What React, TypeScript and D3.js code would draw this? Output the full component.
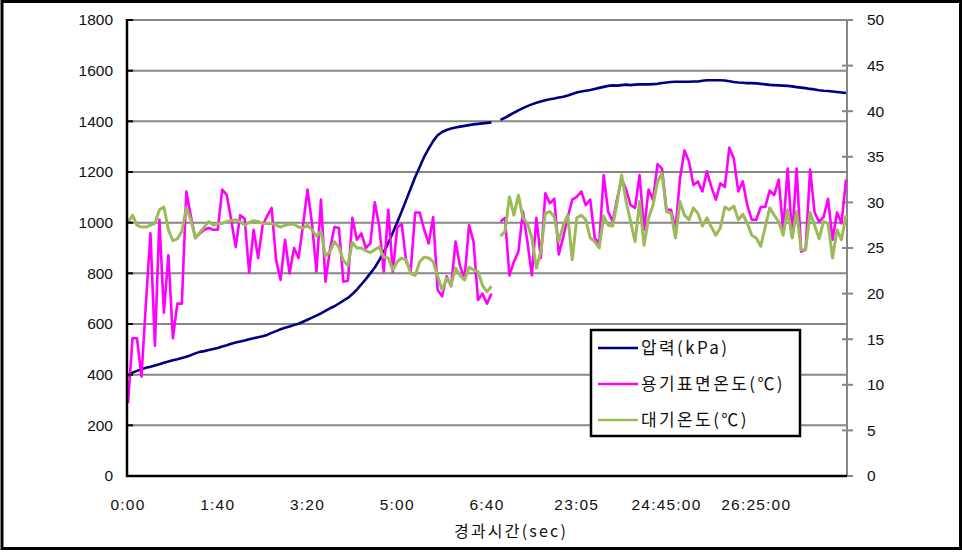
import React, { useEffect, useRef } from 'react';
import * as d3 from 'd3';

// x axis: one point every 5 s, a label every 20 points
const tickLabels = ['0:00', '1:40', '3:20', '5:00', '6:40', '23:05', '24:45:00', '26:25:00'];
const labelStep = 20;

// 압력 (kPa), left axis
const pressure = [
  395, 408, 415, 421, 427, 431, 436, 441, 447, 452,
  457, 461, 466, 471, 477, 484, 490, 493, 497, 501,
  505, 511, 516, 522, 527, 531, 535, 540, 544, 548,
  552, 557, 565, 572, 579, 585, 590, 596, 601, 609,
  617, 625, 633, 642, 652, 662, 670, 681, 692, 703,
  718, 736, 756, 777, 800, 823, 852, 884, 920, 960,
  1002, 1045, 1090, 1135, 1180, 1220, 1260, 1292, 1322, 1345,
  1358, 1366, 1372, 1376, 1379, 1382, 1385, 1388, 1390, 1392,
  1394, 1396, null, 1406, 1414, 1424, 1434, 1443, 1452, 1460,
  1467, 1473, 1478, 1483, 1487, 1490, 1494, 1497, 1502, 1508,
  1514, 1518, 1521, 1524, 1528, 1532, 1536, 1540, 1542, 1541,
  1543, 1545, 1543, 1545, 1546, 1546, 1546, 1547, 1548, 1551,
  1553, 1555, 1556, 1556, 1556, 1556, 1557, 1557, 1560, 1562,
  1562, 1562, 1562, 1561, 1558, 1555, 1553, 1552, 1551, 1551,
  1550, 1548, 1546, 1544, 1543, 1542, 1541, 1540, 1538, 1535,
  1533, 1531, 1528, 1526, 1523, 1521, 1520, 1518, 1516, 1514,
  1512,
];

// 용기표면온도 (℃), right axis
const surfaceTemp = [
  8.0, 15.1, 15.1, 10.9, 19.0, 26.6, 14.3, 28.1, 17.9, 24.2,
  15.1, 18.9, 18.9, 31.2, 28.5, 26.1, 26.6, 27.0, 27.2, 27.0,
  27.0, 31.4, 30.8, 28.1, 25.1, 28.6, 28.2, 22.3, 27.0, 23.9,
  27.5, 28.5, 29.4, 23.7, 21.5, 25.9, 22.2, 25.0, 23.9, 27.5,
  31.4, 27.7, 22.4, 30.3, 21.3, 24.8, 27.3, 27.2, 21.3, 21.4,
  28.3, 25.9, 26.6, 25.0, 25.5, 30.0, 27.3, 22.4, 29.2, 22.4,
  27.3, 27.6, 23.5, 22.5, 28.9, 28.9, 27.0, 25.5, 28.4, 20.4,
  19.7, 21.9, 20.8, 25.7, 23.0, 21.7, 27.5, 25.7, 19.3, 20.0,
  18.9, 20.0, null, 27.9, 28.3, 22.0, 23.5, 24.6, 29.0, 25.7,
  22.0, 28.3, 23.9, 31.0, 29.9, 30.4, 24.3, 26.2, 28.4, 30.3,
  30.6, 31.2, 29.7, 30.3, 26.1, 25.5, 33.0, 29.0, 27.9, 30.4,
  32.6, 31.4, 29.7, 29.4, 33.0, 27.0, 31.4, 30.3, 34.2, 33.7,
  29.2, 29.2, 27.0, 32.6, 35.7, 34.5, 31.9, 32.3, 31.2, 33.4,
  31.7, 30.3, 32.1, 31.7, 36.0, 34.8, 31.2, 32.3, 29.7, 28.1,
  28.1, 29.5, 29.5, 31.3, 30.8, 32.5, 27.0, 33.7, 26.2, 33.7,
  24.6, 24.8, 33.6, 28.9, 27.9, 28.4, 30.4, 25.9, 28.9, 27.7,
  32.5,
];

// 대기온도 (℃), right axis
const airTemp = [
  27.8, 28.6, 27.5, 27.3, 27.3, 27.5, 27.7, 29.2, 29.5, 27.0,
  25.8, 26.0, 26.8, 29.4, 28.1, 26.1, 26.7, 27.3, 27.9, 27.5,
  27.7, 27.7, 27.9, 28.0, 28.1, 27.9, 27.5, 27.8, 28.0, 27.9,
  27.7, 27.7, 27.7, 27.5, 27.3, 27.5, 27.6, 27.6, 27.3, 27.2,
  27.5, 27.0, 26.3, 26.8, 24.1, 24.6, 25.7, 25.1, 23.6, 23.1,
  25.6, 25.0, 25.0, 24.7, 24.5, 24.8, 25.1, 24.0, 23.9, 22.6,
  23.5, 23.9, 23.7, 22.2, 22.0, 23.5, 24.0, 23.9, 23.5, 21.9,
  20.4, 21.7, 20.9, 22.8, 22.0, 21.5, 22.9, 22.6, 22.4, 20.9,
  20.2, 20.8, null, 26.3, 26.8, 30.6, 28.6, 30.8, 28.3, 27.7,
  26.1, 22.8, 24.6, 28.8, 29.0, 28.4, 25.7, 27.5, 28.6, 23.7,
  28.3, 28.6, 28.1, 26.1, 25.7, 25.0, 28.5, 27.5, 27.4, 30.0,
  33.0, 30.1, 27.9, 25.7, 30.1, 25.3, 28.3, 29.7, 32.3, 33.2,
  29.0, 28.8, 26.1, 30.1, 28.6, 28.1, 29.4, 28.8, 27.4, 28.3,
  27.3, 26.4, 27.2, 29.5, 29.2, 29.6, 28.1, 28.7, 27.7, 26.4,
  26.1, 25.2, 27.3, 29.4, 28.6, 27.9, 26.4, 29.2, 26.1, 29.0,
  24.8, 24.8, 28.9, 27.5, 26.0, 27.9, 27.7, 23.9, 27.0, 25.9,
  28.6,
];

const seriesNames = ['압력(kPa)', '용기표면온도(℃)', '대기온도(℃)'];
const seriesColors = ['#000080', '#ff00ff', '#9bbb59'];

const numFont = '"Liberation Sans", Arial, sans-serif';
const krFont = '"Noto Sans CJK KR", "Liberation Sans", sans-serif';

export default function App() {
  const ref = useRef<SVGSVGElement>(null);

  useEffect(() => {
    const svg = d3.select(ref.current);
    svg.selectAll('*').remove();

    const left = 128;
    const right = 846;
    const top = 20;
    const bottom = 476;

    const x = d3.scaleLinear().domain([0, pressure.length - 1]).range([left, right]);
    const yLeft = d3.scaleLinear().domain([0, 1800]).range([bottom, top]);
    const yRight = d3.scaleLinear().domain([0, 50]).range([bottom, top]);

    // chart border
    svg
      .append('rect')
      .attr('x', 2)
      .attr('y', 1.5)
      .attr('width', 958.5)
      .attr('height', 547)
      .attr('fill', '#fff')
      .attr('stroke', '#000')
      .attr('stroke-width', 3);

    const leftTicks = d3.range(0, 1801, 200);
    const rightTicks = d3.range(0, 51, 5);

    // grid
    svg
      .append('g')
      .selectAll('line')
      .data(leftTicks.filter((d) => d > 0))
      .enter()
      .append('line')
      .attr('x1', left)
      .attr('x2', right)
      .attr('y1', (d) => yLeft(d))
      .attr('y2', (d) => yLeft(d))
      .attr('stroke', '#868686')
      .attr('stroke-width', 2);

    // right axis (gray)
    const rAxis = svg.append('g');
    rAxis
      .append('line')
      .attr('x1', 847)
      .attr('x2', 847)
      .attr('y1', top)
      .attr('y2', bottom)
      .attr('stroke', '#868686')
      .attr('stroke-width', 2);
    rAxis
      .selectAll('.rtick')
      .data(rightTicks)
      .enter()
      .append('line')
      .attr('x1', 842)
      .attr('x2', 853)
      .attr('y1', (d) => yRight(d))
      .attr('y2', (d) => yRight(d))
      .attr('stroke', '#868686')
      .attr('stroke-width', 2);
    rAxis
      .selectAll('text')
      .data(rightTicks)
      .enter()
      .append('text')
      .attr('x', 867)
      .attr('y', (d) => yRight(d))
      .attr('dy', '0.35em')
      .attr('font-family', numFont)
      .attr('font-size', 15.5)
      .attr('fill', '#111')
      .text((d) => d);

    // series
    const lineFor = (scale: d3.ScaleLinear<number, number>) =>
      d3
        .line<number | null>()
        .defined((d) => d != null)
        .x((_, i) => x(i))
        .y((d) => scale(d as number));

    const series = [
      { values: pressure, scale: yLeft, width: 2.6 },
      { values: surfaceTemp, scale: yRight, width: 2.6 },
      { values: airTemp, scale: yRight, width: 3 },
    ];
    series.forEach((s, k) => {
      svg
        .append('path')
        .attr('d', lineFor(s.scale)(s.values))
        .attr('fill', 'none')
        .attr('stroke', seriesColors[k])
        .attr('stroke-width', s.width)
        .attr('stroke-linejoin', 'round');
    });

    // left axis + bottom axis (black)
    const lAxis = svg.append('g');
    lAxis
      .selectAll('.ltick')
      .data(leftTicks)
      .enter()
      .append('line')
      .attr('x1', 126)
      .attr('x2', 133)
      .attr('y1', (d) => yLeft(d))
      .attr('y2', (d) => yLeft(d))
      .attr('stroke', '#000')
      .attr('stroke-width', 2);
    lAxis
      .append('line')
      .attr('x1', 127)
      .attr('x2', 127)
      .attr('y1', top - 1)
      .attr('y2', bottom + 1)
      .attr('stroke', '#000')
      .attr('stroke-width', 2.5);
    lAxis
      .append('line')
      .attr('x1', 126)
      .attr('x2', right + 1)
      .attr('y1', bottom)
      .attr('y2', bottom)
      .attr('stroke', '#000')
      .attr('stroke-width', 2.5);
    lAxis
      .selectAll('text')
      .data(leftTicks)
      .enter()
      .append('text')
      .attr('x', 113)
      .attr('y', (d) => yLeft(d))
      .attr('dy', '0.35em')
      .attr('text-anchor', 'end')
      .attr('font-family', numFont)
      .attr('font-size', 15.5)
      .attr('fill', '#111')
      .text((d) => d);

    // x labels
    svg
      .append('g')
      .selectAll('text')
      .data(tickLabels)
      .enter()
      .append('text')
      .attr('x', (_, i) => x(i * labelStep))
      .attr('y', 505)
      .attr('dy', '0.35em')
      .attr('text-anchor', 'middle')
      .attr('font-family', numFont)
      .attr('font-size', 15.5)
      .attr('letter-spacing', 1.2)
      .attr('fill', '#111')
      .text((d) => d);

    svg
      .append('text')
      .attr('x', 511)
      .attr('y', 531)
      .attr('dy', '0.35em')
      .attr('text-anchor', 'middle')
      .attr('font-family', krFont)
      .attr('font-size', 16)
      .attr('letter-spacing', 2.2)
      .attr('fill', '#111')
      .text('경과시간(sec)');

    // legend
    const legend = svg.append('g');
    legend
      .append('rect')
      .attr('x', 591)
      .attr('y', 330)
      .attr('width', 209)
      .attr('height', 106)
      .attr('fill', '#fff')
      .attr('stroke', '#000')
      .attr('stroke-width', 2.5);
    const rows = legend
      .selectAll('.row')
      .data(seriesNames)
      .enter()
      .append('g')
      .attr('transform', (_, i) => `translate(0, ${348 + i * 36})`);
    rows
      .append('line')
      .attr('x1', 598)
      .attr('x2', 638)
      .attr('stroke', (_, i) => seriesColors[i])
      .attr('stroke-width', 2.5);
    rows
      .append('text')
      .attr('x', 641)
      .attr('dy', '0.35em')
      .attr('font-family', krFont)
      .attr('font-size', 17)
      .attr('letter-spacing', 2.4)
      .attr('fill', '#111')
      .text((d) => d);
  }, []);

  return (
    <>
      <style>{'body{margin:0}'}</style>
      <svg ref={ref} width={962} height={553} style={{ display: 'block' }} />
    </>
  );
}
